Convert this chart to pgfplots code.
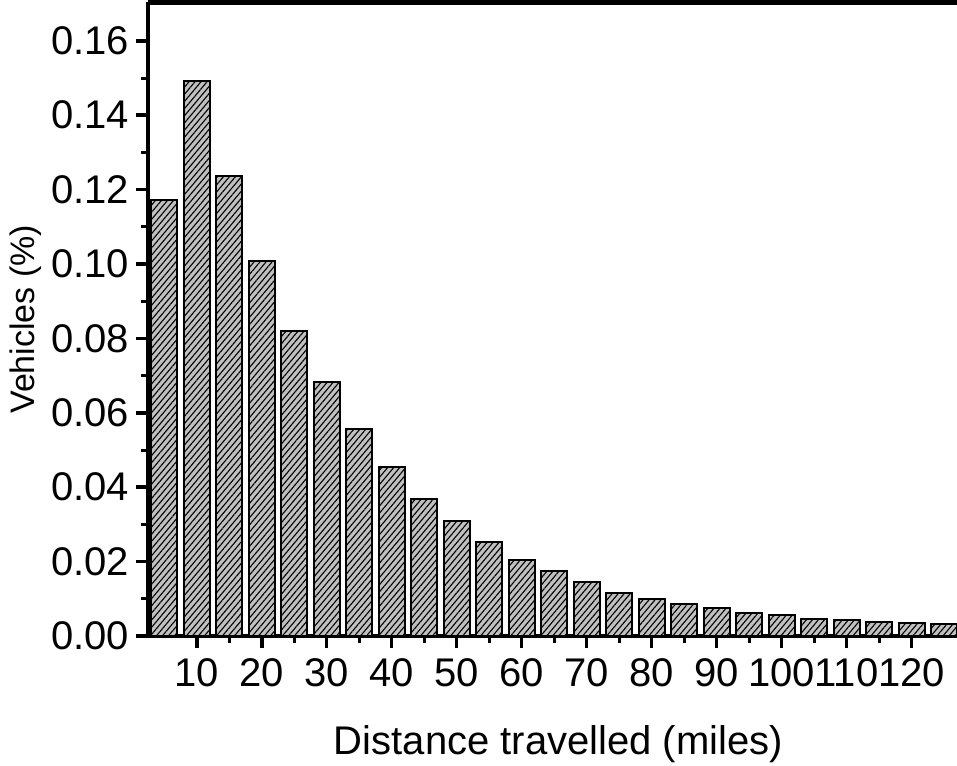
\documentclass[border=0pt]{standalone}
\usepackage{fontspec}
\setmainfont{Liberation Sans}
\usepackage{pgfplots}
\pgfplotsset{compat=1.18}
\usetikzlibrary{patterns.meta}
\definecolor{barfill}{RGB}{192,192,192}

\begin{document}
\begin{tikzpicture}
\begin{axis}[
    name=ax,
    scale only axis, width=404.5pt, height=316.75pt,
    xmin=2.5, xmax=127, ymin=0, ymax=0.1703,
    axis x line=box, axis y line=left,
    axis line style={-, line width=2.4pt},
    xtick={10,20,30,40,50,60,70,80,90,100,110,120}, minor x tick num=1,
    ytick={0,0.02,0.04,0.06,0.08,0.10,0.12,0.14,0.16}, minor y tick num=1,
    xtick pos=bottom, ytick pos=left,
    tick align=outside,
    major tick length=6pt, minor tick length=3.5pt,
    every major tick/.append style={line width=1.8pt, black},
    every minor tick/.append style={line width=1.5pt, black},
    scaled y ticks=false,
    ticklabel style={font=\fontsize{20}{24}\selectfont},
    /pgf/number format/assume math mode=true,
    xticklabel style={yshift=-2pt},
    yticklabel style={/pgf/number format/.cd, fixed, fixed zerofill, precision=2},
    xlabel={Distance travelled (miles)},
    xlabel style={font=\fontsize{20}{24}\selectfont, yshift=-12pt, xshift=3pt},
    ylabel={Vehicles (\%)},
    ylabel style={font=\fontsize{17}{20}\selectfont, yshift=-2pt},
    ybar, bar width=4,
]
\addplot[draw=black, line width=1pt, preaction={fill=barfill},
    pattern={Lines[angle=50, distance=2.3pt, line width=0.55pt]}, pattern color=black]
coordinates {
    (5, 0.1172) (10, 0.1492) (15, 0.1236) (20, 0.1008) (25, 0.0820)
    (30, 0.0682) (35, 0.0557) (40, 0.0454) (45, 0.0368) (50, 0.0310)
    (55, 0.0252) (60, 0.0204) (65, 0.0175) (70, 0.0145) (75, 0.0116)
    (80, 0.0100) (85, 0.0085) (90, 0.0074) (95, 0.0063) (100, 0.0056)
    (105, 0.0045) (110, 0.0044) (115, 0.0038) (120, 0.0035) (125, 0.0032)
};
\end{axis}
\pgfresetboundingbox
\path[use as bounding box] ([xshift=-74pt,yshift=-64.5pt]ax.south west) rectangle ([yshift=1.25pt]ax.north east);
\end{tikzpicture}
\end{document}
